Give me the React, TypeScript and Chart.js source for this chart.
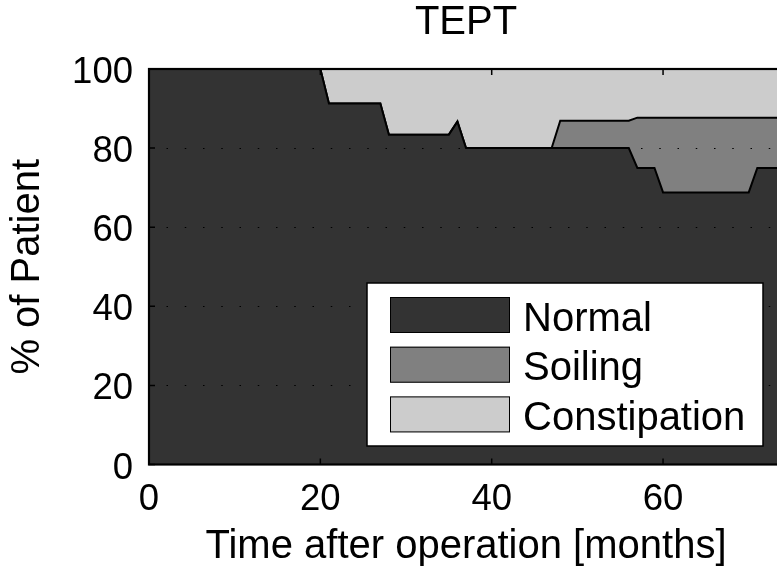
import React, { useEffect, useRef } from 'react';
import { Chart, registerables } from 'chart.js';

Chart.register(...registerables);

const chartTitle = 'TEPT';
const xTitle = 'Time after operation [months]';
const yTitle = '% of Patient';

const months = [0, 20, 21, 27, 28, 35, 36, 37, 47, 48, 56, 57, 59, 60, 70, 71, 74];
const normal = [100, 100, 91.3, 91.3, 83.4, 83.4, 86.7, 80, 80, 80, 80, 75, 75, 68.8, 68.8, 75, 75];
const soiling = [0, 0, 0, 0, 0, 0, 0, 0, 0, 6.9, 6.9, 12.7, 12.7, 18.9, 18.9, 12.7, 12.7];
const constipation = [0, 0, 8.7, 8.7, 16.6, 16.6, 13.3, 20, 20, 13.1, 13.1, 12.3, 12.3, 12.3, 12.3, 12.3, 12.3];

const seriesLabels = ['Normal', 'Soiling', 'Constipation'];
const seriesColors = ['#333333', '#808080', '#cccccc'];

const xTicks = [0, 20, 40, 60];
const yTicks = [0, 20, 40, 60, 80, 100];
const xMin = 0;
const xMax = 74;
const yMin = 0;
const yMax = 100;

const FONT = "'Liberation Sans', Arial, Helvetica, sans-serif";

const axesPlugin = {
  id: 'matlabAxes',
  afterDatasetsDraw(chart: any) {
    const { ctx, chartArea } = chart;
    const { left, right, top, bottom } = chartArea;
    const xs = chart.scales.x;
    const ys = chart.scales.y;
    ctx.save();
    // dotted grid
    ctx.strokeStyle = '#000';
    ctx.lineWidth = 1.2;
    ctx.setLineDash([1.5, 16.75]);
    ctx.lineDashOffset = 0.75;
    ys.ticks.forEach((t: any) => {
      if (t.value <= yMin || t.value >= yMax) return;
      const py = Math.round(ys.getPixelForValue(t.value)) + 0.5;
      ctx.beginPath();
      ctx.moveTo(left, py);
      ctx.lineTo(right, py);
      ctx.stroke();
    });
    ctx.setLineDash([]);
    // inward ticks
    ctx.lineWidth = 1.5;
    const tl = 6;
    xs.ticks.forEach((t: any) => {
      const px = xs.getPixelForValue(t.value);
      ctx.beginPath();
      ctx.moveTo(px, bottom);
      ctx.lineTo(px, bottom - tl);
      ctx.moveTo(px, top);
      ctx.lineTo(px, top + tl);
      ctx.stroke();
    });
    ys.ticks.forEach((t: any) => {
      const py = ys.getPixelForValue(t.value);
      ctx.beginPath();
      ctx.moveTo(left, py);
      ctx.lineTo(left + tl, py);
      ctx.moveTo(right, py);
      ctx.lineTo(right - tl, py);
      ctx.stroke();
    });
    // box
    ctx.lineWidth = 2.2;
    ctx.strokeRect(left, top, right - left, bottom - top);
    ctx.restore();
  },
};

const legendPlugin = {
  id: 'matlabLegend',
  afterDraw(chart: any) {
    const { ctx, chartArea } = chart;
    const w = 396;
    const h = 163;
    const boxRight = chartArea.right - 20;
    const boxBottom = chartArea.bottom - 18.5;
    const bl = boxRight - w;
    const bt = boxBottom - h;
    ctx.save();
    ctx.fillStyle = '#ffffff';
    ctx.fillRect(bl, bt, w, h);
    ctx.strokeStyle = '#000';
    ctx.lineWidth = 1.5;
    ctx.strokeRect(bl, bt, w, h);
    ctx.font = `40px ${FONT}`;
    ctx.textAlign = 'left';
    ctx.textBaseline = 'alphabetic';
    chart.data.datasets.forEach((ds: any, i: number) => {
      const sy = bt + 14 + i * 49.7;
      ctx.fillStyle = ds.backgroundColor;
      ctx.fillRect(bl + 23, sy, 120, 36);
      ctx.lineWidth = 1;
      ctx.strokeStyle = '#000';
      ctx.strokeRect(bl + 23.5, sy + 0.5, 119, 35);
      ctx.fillStyle = '#000';
      ctx.fillText(ds.label, bl + 156, sy + 18 + 15.5);
    });
    ctx.restore();
  },
};

export default function App() {
  const canvasRef = useRef<HTMLCanvasElement | null>(null);

  useEffect(() => {
    document.body.style.margin = '0';
    const canvas = canvasRef.current;
    if (!canvas) return;
    const series = [normal, soiling, constipation];
    const chart = new Chart(canvas, {
      type: 'line',
      data: {
        datasets: series.map((vals, i) => ({
          label: seriesLabels[i],
          data: months.map((m, j) => ({ x: m, y: vals[j] })),
          backgroundColor: seriesColors[i],
          borderColor: '#000000',
          borderWidth: 2,
          fill: i === 0 ? 'origin' : '-1',
          pointRadius: 0,
          tension: 0,
        })),
      },
      options: {
        responsive: false,
        animation: false,
        events: [],
        layout: { padding: { left: 0, right: 17, top: 0, bottom: 0 } },
        plugins: {
          legend: { display: false },
          tooltip: { enabled: false },
          title: {
            display: true,
            text: chartTitle,
            color: '#000',
            fullSize: false,
            font: { family: FONT, size: 40, weight: 'normal', lineHeight: 1.15 },
            padding: { top: 0, bottom: 23 },
          },
        },
        scales: {
          x: {
            type: 'linear',
            min: xMin,
            max: xMax,
            grid: { display: false, drawTicks: false },
            border: { display: false },
            afterBuildTicks: (s: any) => {
              s.ticks = xTicks.map((v) => ({ value: v }));
            },
            afterFit: (s: any) => {
              s.height = 110.5;
            },
            ticks: {
              color: '#000',
              padding: 13.5,
              maxRotation: 0,
              autoSkip: false,
              font: { family: FONT, size: 36.5 },
            },
            title: {
              display: true,
              text: xTitle,
              color: '#000',
              font: { family: FONT, size: 40, weight: 'normal' },
              padding: { top: 0, bottom: 4 },
            },
          },
          y: {
            type: 'linear',
            stacked: true,
            min: yMin,
            max: yMax,
            grid: { display: false, drawTicks: false },
            border: { display: false },
            afterBuildTicks: (s: any) => {
              s.ticks = yTicks.map((v) => ({ value: v }));
            },
            afterFit: (s: any) => {
              s.width = 149;
            },
            ticks: {
              color: '#000',
              padding: 16,
              labelOffset: 4,
              autoSkip: false,
              font: { family: FONT, size: 36.5 },
            },
            title: {
              display: true,
              text: yTitle,
              color: '#000',
              font: { family: FONT, size: 40, weight: 'normal' },
              padding: { top: 4, bottom: 0 },
            },
          },
        },
      },
      plugins: [axesPlugin, legendPlugin],
    });
    return () => chart.destroy();
  }, []);

  return (
    <div style={{ width: 777, height: 575, overflow: 'hidden', position: 'relative', background: '#fff' }}>
      <canvas ref={canvasRef} width={800} height={575} style={{ display: 'block' }} />
    </div>
  );
}
